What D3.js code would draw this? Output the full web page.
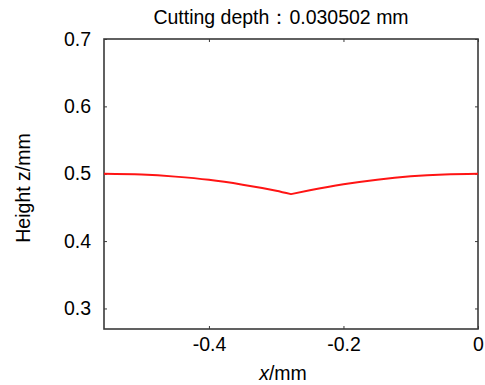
<!DOCTYPE html>
<html>
<head>
<meta charset="utf-8">
<script src="https://cdn.jsdelivr.net/npm/d3@7"></script>
<style>
  html, body { margin: 0; padding: 0; background: #fff; }
  svg text { font-family: Arial, "Liberation Sans", sans-serif; fill: #000; }
</style>
</head>
<body>
<svg id="chart" width="485" height="385"></svg>
<script>
// profile of the machined surface
const xValues = [-0.556, -0.50, -0.45, -0.40, -0.35, -0.30, -0.278, -0.25, -0.20, -0.15, -0.10, -0.05, 0];
const zValues = [0.500, 0.4988, 0.4957, 0.4910, 0.4838, 0.4748, 0.4697, 0.4754, 0.4843, 0.4911, 0.4961, 0.4990, 0.500];
const valleyIndex = 6; // the two tool-nose arcs meet here
const xTicks = [-0.4, -0.2, 0];
const yTicks = [0.3, 0.4, 0.5, 0.6, 0.7];
const titleText = 'Cutting depth\uFF1A0.030502 mm';

const svg = d3.select('#chart');
const plotL = 104, plotR = 478, plotT = 39, plotB = 329;

const x = d3.scaleLinear().domain([-0.556, 0]).range([plotL, plotR]);
const y = d3.scaleLinear().domain([0.2695, 0.7]).range([plotB, plotT]);

const fontSize = 19.5;
const frame = '#3a3a3a';
const fontFam = 'Arial, "Liberation Sans", sans-serif';

// axes: labels outside, small ticks inside
svg.append('g')
  .attr('transform', `translate(0,${plotB})`)
  .call(d3.axisBottom(x).tickValues(xTicks).tickSize(-3).tickPadding(8)
    .tickFormat(d => d === 0 ? '0' : d3.format('.1f')(d).replace('\u2212', '-')))
  .call(g => g.select('.domain').remove())
  .call(g => g.selectAll('line').attr('stroke', frame))
  .call(g => g.selectAll('text').attr('font-size', fontSize).attr('font-family', fontFam));

svg.append('g')
  .attr('transform', `translate(0,${plotT})`)
  .call(d3.axisTop(x).tickValues(xTicks).tickSize(-3).tickFormat(''))
  .call(g => g.select('.domain').remove())
  .call(g => g.selectAll('line').attr('stroke', frame));

svg.append('g')
  .attr('transform', `translate(${plotL},0)`)
  .call(d3.axisLeft(y).tickValues(yTicks).tickSize(-3).tickPadding(13).tickFormat(d3.format('.1f')))
  .call(g => g.select('.domain').remove())
  .call(g => g.selectAll('line').attr('stroke', frame))
  .call(g => g.selectAll('text').attr('font-size', fontSize).attr('font-family', fontFam));

svg.append('g')
  .attr('transform', `translate(${plotR},0)`)
  .call(d3.axisRight(y).tickValues(yTicks).tickSize(-3).tickFormat(''))
  .call(g => g.select('.domain').remove())
  .call(g => g.selectAll('line').attr('stroke', frame));

// plot frame
svg.append('rect')
  .attr('x', plotL).attr('y', plotT)
  .attr('width', plotR - plotL).attr('height', plotB - plotT)
  .attr('fill', 'none')
  .attr('stroke', frame)
  .attr('stroke-width', 1.6);

// the profile: two smooth arcs joined at a sharp valley
const pts = xValues.map((v, i) => [v, zValues[i]]);
const arcs = [pts.slice(0, valleyIndex + 1), pts.slice(valleyIndex)];
const line = d3.line().x(d => x(d[0])).y(d => y(d[1])).curve(d3.curveMonotoneX);
svg.append('path')
  .attr('d', arcs.map(a => line(a)).join(''))
  .attr('fill', 'none')
  .attr('stroke', '#ff1414')
  .attr('stroke-width', 2)
  .attr('stroke-linejoin', 'round');

// title
svg.append('text')
  .attr('x', 281).attr('y', 24)
  .attr('text-anchor', 'middle')
  .attr('font-size', fontSize)
  .text(titleText);

// x label
const xl = svg.append('text')
  .attr('x', 283).attr('y', 380)
  .attr('text-anchor', 'middle')
  .attr('font-size', fontSize);
xl.append('tspan').attr('font-style', 'italic').text('x');
xl.append('tspan').text('/mm');

// y label
svg.append('text')
  .attr('transform', 'translate(30,188) rotate(-90)')
  .attr('text-anchor', 'middle')
  .attr('font-size', fontSize)
  .text('Height z/mm');
</script>
</body>
</html>
